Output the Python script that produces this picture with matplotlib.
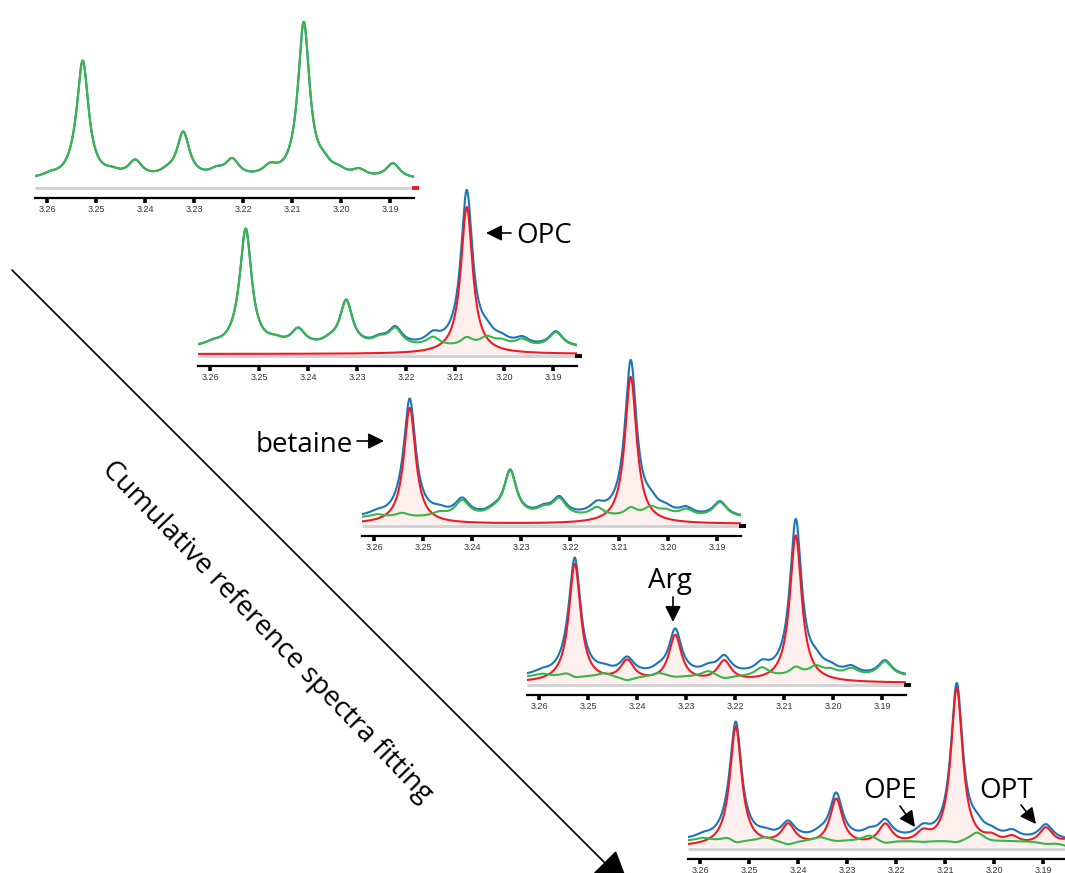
import numpy as np
import matplotlib
matplotlib.use('Agg')
import matplotlib.pyplot as plt

# figure size in pixels (dpi 100)
W, H = 1065, 873

ppm_ticks = [3.26, 3.25, 3.24, 3.23, 3.22, 3.21, 3.20, 3.19]
tick_labels = ['3.26', '3.25', '3.24', '3.23', '3.22', '3.21', '3.20', '3.19']

# observed spectrum: Lorentzian lines (ppm, height, fwhm) on a flat baseline
obs_ppm = [3.2594, 3.2543, 3.2527, 3.2467, 3.2420, 3.2355, 3.2322, 3.2254,
           3.2222, 3.2145, 3.2076, 3.2035, 3.2005, 3.1963, 3.1894]
obs_height = [3, 4, 116, 4, 16, 4, 45, 6, 17, 9, 155, 9, 5, 7, 15]
obs_fwhm = [0.0035, 0.0032, 0.0029, 0.0035, 0.0034, 0.0035, 0.0031, 0.0035,
            0.0034, 0.0034, 0.0029, 0.0035, 0.0034, 0.0034, 0.0034]
obs_baseline = 6

# reference compounds fitted one after the other
ref_names = ['OPC', 'betaine', 'Arg', 'OPE', 'OPT']
ref_ppm = [[3.2076], [3.2527], [3.2420, 3.2322, 3.2222], [3.2145],
           [3.2005, 3.1963, 3.1894, 3.1835]]
ref_height = [[147], [116], [20, 46, 20], [10], [6, 7, 17, 8]]
ref_fwhm = [[0.0029], [0.0029], [0.0034, 0.0031, 0.0034], [0.0034],
            [0.0034, 0.0034, 0.0034, 0.0045]]

# fitted amplitude of each reference in each panel
fit_scale = [
    [0, 0, 0, 0, 0],
    [1.0, 0, 0, 0, 0],
    [1.0, 1.0, 0, 0, 0],
    [1.0, 1.02, 1.0, 0, 0],
    [1.07, 1.03, 1.0, 1.0, 1.0],
]

# annotations: text, text baseline position, arrow start, arrow end (pixels)
labels = ['OPC', 'betaine', 'Arg', 'OPE', 'OPT']
label_xy = [(544, 243), (304, 452), (670, 588), (890, 798), (1006, 798)]
arrow_from = [(511, 233), (357, 441), (673, 597), (900, 806), (1021, 805)]
arrow_to = [(486, 233), (384, 441), (673, 622), (915, 827), (1036, 824)]

# layout of the stacked panels (pixels)
panel_left = [35, 198, 362, 527, 688]
panel_axis_y = [198, 366, 536, 695, 859]
panel_w = 379
panel_h = 185
end_mark = ['#ed1c24', 'k', 'k', 'k', 'k']

BLUE, RED, GREEN = '#1b75bb', '#ed1c24', '#39b54a'
FILL = '#fcefee'
GRAY = '#d3d3d3'


def lorentz(x, centers, heights, fwhm):
    y = np.zeros_like(x)
    for c, h, w in zip(centers, heights, fwhm):
        y += h / (1 + ((x - c) / (w / 2)) ** 2)
    return y


ppm_left = 3.26 + 12 / 4900
ppm_right = ppm_left - panel_w / 4900
x = np.linspace(ppm_left, ppm_right, 2000)
observed = obs_baseline + lorentz(x, obs_ppm, obs_height, obs_fwhm)

plt.rcParams['font.family'] = ['Open Sans', 'DejaVu Sans']
fig = plt.figure(figsize=(W / 100, H / 100), dpi=100)

for i in range(5):
    ax = fig.add_axes([panel_left[i] / W, 1 - panel_axis_y[i] / H,
                       panel_w / W, panel_h / H])
    ax.patch.set_alpha(0)
    fitted = np.zeros_like(x)
    for j in range(5):
        if fit_scale[i][j] > 0:
            fitted += fit_scale[i][j] * lorentz(x, ref_ppm[j], ref_height[j], ref_fwhm[j])
    residual = observed - fitted
    has_fit = any(s > 0 for s in fit_scale[i])

    px = 1 / 4900
    ax.plot([ppm_left, ppm_right - 3 * px], [-1.5, -1.5], color=GRAY, lw=2.2,
            solid_capstyle='butt', clip_on=False, zorder=1)
    ax.plot([ppm_right + 2 * px, ppm_right - 5 * px], [-1.5, -1.5], color=end_mark[i],
            lw=2.8, solid_capstyle='butt', clip_on=False, zorder=1.2)
    if has_fit:
        ax.fill_between(x, 0, fitted, color=FILL, lw=0, zorder=0.5)
    ax.plot(x, observed, color=BLUE, lw=1.5, zorder=2)
    if has_fit:
        ax.plot(x, fitted, color=RED, lw=1.5, zorder=3)
    ax.plot(x, residual, color=GREEN, lw=1.5, zorder=4)

    ax.set_xlim(ppm_left, ppm_right)
    ax.set_ylim(-12, panel_h - 12)
    for s in ['left', 'right', 'top']:
        ax.spines[s].set_visible(False)
    ax.spines['bottom'].set_linewidth(1.6)
    ax.set_yticks([])
    ax.set_xticks(ppm_ticks)
    ax.set_xticklabels(tick_labels, fontsize=6.5, color='#333333',
                       family=['Liberation Sans', 'DejaVu Sans'])
    ax.tick_params(axis='x', direction='out', length=3.5, width=2.6, pad=1.5)

# overlay in pixel coordinates for arrows and labels
ov = fig.add_axes([0, 0, 1, 1])
ov.set_xlim(0, W)
ov.set_ylim(H, 0)
ov.axis('off')
ov.patch.set_alpha(0)

for t, (tx, ty), a0, a1 in zip(labels, label_xy, arrow_from, arrow_to):
    ov.text(tx, ty, t, fontsize=20, ha='center', va='baseline')
    ov.annotate('', xy=a1, xytext=a0,
                arrowprops=dict(arrowstyle='-|>,head_length=0.8,head_width=0.4',
                                color='k', lw=1.2, mutation_scale=12,
                                shrinkA=0, shrinkB=0))

ov.annotate('', xy=(630, 888), xytext=(12, 270), annotation_clip=False,
            arrowprops=dict(arrowstyle='-|>,head_length=1.0,head_width=0.45',
                            color='k', lw=1.2, mutation_scale=24,
                            shrinkA=0, shrinkB=0))
ov.text(267, 632, 'Cumulative reference spectra fitting', fontsize=20,
        rotation=-46, rotation_mode='anchor', ha='center', va='center')

fig.savefig('out.png', dpi=100)
